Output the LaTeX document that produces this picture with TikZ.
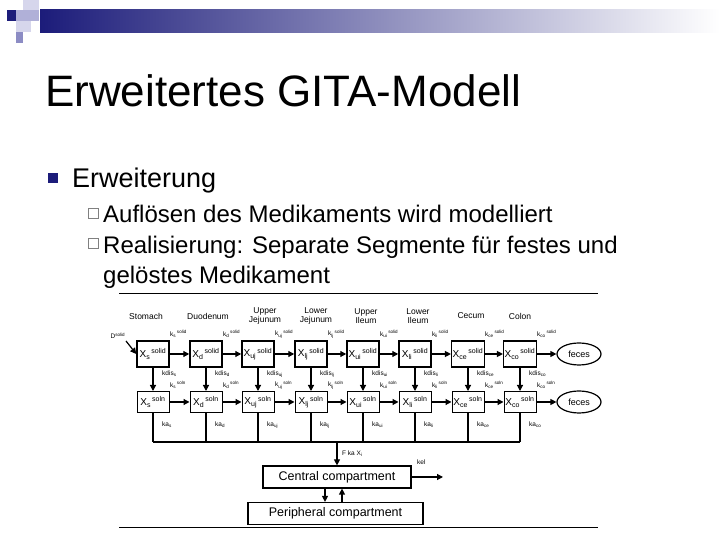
\documentclass[tikz,border=0pt]{standalone}
\usepackage{fontspec}
\setmainfont{Liberation Sans}
\usetikzlibrary{arrows.meta, positioning, shapes.geometric, calc}
\definecolor{navy}{RGB}{28,28,122}
\definecolor{lavender}{RGB}{176,176,216}
\definecolor{lightlav}{RGB}{214,214,236}
\definecolor{midlav}{RGB}{140,140,196}
\newcommand{\cmp}[3]{#1\textsubscript{#2}\textsuperscript{\,#3}}
\tikzset{
  title_text/.style={font=\fontsize{44}{48}\selectfont, inner sep=0pt},
  bullet_text/.style={font=\fontsize{27}{30}\selectfont, inner sep=0pt},
  sub_text/.style={font=\fontsize{24}{27}\selectfont, inner sep=0pt},
  solid_box/.style={rectangle, draw=black, line width=1.5pt, fill=white, minimum width=32pt, minimum height=26pt, inner sep=1pt, font=\fontsize{10}{11}\selectfont},
  soln_box/.style={rectangle, draw=black, line width=1pt, fill=white, minimum width=32pt, minimum height=21pt, inner sep=1pt, font=\fontsize{10}{11}\selectfont},
  comp_box/.style={rectangle, draw=black, line width=1.2pt, minimum height=22pt, inner sep=2pt, font=\fontsize{12.5}{14}\selectfont},
  feces_node/.style={ellipse, draw=black, line width=1.2pt, minimum width=44pt, minimum height=22pt, inner sep=0pt, font=\fontsize{9}{10}\selectfont},
  seg_label/.style={font=\fontsize{8.5}{9.5}\selectfont, align=center, inner sep=0pt},
  rate_label/.style={font=\fontsize{6.5}{7}\selectfont, inner sep=0pt, anchor=west},
  arrow/.style={-{Triangle[length=6pt,width=6pt]}, line width=1.2pt, draw=black, fill=black},
  connect/.style={-, line width=1.2pt, draw=black},
  frame_line/.style={-, line width=1pt}
}

\begin{document}
\begin{tikzpicture}[x=1pt, y=1pt]
    \useasboundingbox (0,0) rectangle (720,540);

    % header bar and its little squares
    \shade[left color=navy, right color=white] (40,530) rectangle (720,507);
    \fill[lightlav] (23,540) rectangle (39,530);
    \fill[lavender] (16,530) rectangle (39,519);
    \fill[navy] (7,530) rectangle (16,519);
    \fill[lightlav] (16,519) rectangle (31,508);
    \fill[midlav] (16,508) rectangle (23,497);

    % slide text
    \node[title_text, anchor=base west] (title) at (45,433) {Erweitertes GITA-Modell};
    \fill[navy] (48,367) rectangle (58,357);
    \node[bullet_text, anchor=base west] (bullet) at (72,352) {Erweiterung};
    \draw[gray, line width=0.6pt] (88,332) rectangle (98,322);
    \node[sub_text, anchor=base west] (sub_a) at (103,317) {Auflösen des Medikaments wird modelliert};
    \draw[gray, line width=0.6pt] (88,302) rectangle (98,292);
    \node[sub_text, anchor=base west] (sub_b) at (103,286) {Realisierung: Separate Segmente für festes und};
    \node[sub_text, anchor=base west] (sub_c) at (103,256) {gelöstes Medikament};

    % frame of the figure
    \draw[frame_line] (119,246) -- (598,246);
    \draw[frame_line] (119,12) -- (598,12);

    % the eight segments, solid row over soln row
    \foreach \seg/\segname/\headx/\boxx in {s/Stomach/146/153, d/Duodenum/208/206, uj/{Upper\\Jejunum}/265/258, lj/{Lower\\Jejunum}/316/311, ui/{Upper\\Ileum}/366/363, li/{Lower\\Ileum}/418/415, ce/Cecum/471/468, co/Colon/520/520}{
      \node[seg_label] (head-\seg) at (\headx,224) {\segname};
      \node[solid_box] (sol-\seg) at (\boxx,186) {\cmp{X}{\seg}{solid}};
      \node[soln_box] (sln-\seg) at (\boxx,138) {\cmp{X}{\seg}{soln}};
      \node[rate_label] (ks-\seg) at (\boxx+17,206) {\cmp{k}{\seg}{solid}};
      \node[rate_label] (kn-\seg) at (\boxx+17,155) {\cmp{k}{\seg}{soln}};
      \node[rate_label] (kdis-\seg) at (\boxx+9,166) {kdis\textsubscript{\seg}};
      \node[rate_label] (ka-\seg) at (\boxx+9,115) {ka\textsubscript{\seg}};
    }
    \coordinate (kajoin) at (0,98);

    % dissolution
    \draw[arrow] (sol-s.south) -- (sln-s.north);
    \draw[arrow] (sol-d.south) -- (sln-d.north);
    \draw[arrow] (sol-uj.south) -- (sln-uj.north);
    \draw[arrow] (sol-lj.south) -- (sln-lj.north);
    \draw[arrow] (sol-ui.south) -- (sln-ui.north);
    \draw[arrow] (sol-li.south) -- (sln-li.north);
    \draw[arrow] (sol-ce.south) -- (sln-ce.north);
    \draw[arrow] (sol-co.south) -- (sln-co.north);
    % transit along the gut
    \foreach \a/\b in {s/d, d/uj, uj/lj, lj/ui, ui/li, li/ce, ce/co}{
      \draw[arrow] (sol-\a.east) -- (sol-\b.west);
      \draw[arrow] (sln-\a.east) -- (sln-\b.west);
    }
    % absorption drops
    \draw[connect] (sln-s.south) -- (sln-s.south |- kajoin);
    \draw[connect] (sln-d.south) -- (sln-d.south |- kajoin);
    \draw[connect] (sln-uj.south) -- (sln-uj.south |- kajoin);
    \draw[connect] (sln-lj.south) -- (sln-lj.south |- kajoin);
    \draw[connect] (sln-ui.south) -- (sln-ui.south |- kajoin);
    \draw[connect] (sln-li.south) -- (sln-li.south |- kajoin);
    \draw[connect] (sln-ce.south) -- (sln-ce.south |- kajoin);
    \draw[connect] (sln-co.south) -- (sln-co.south |- kajoin);
    \draw[connect] (sln-s.south |- kajoin) -- (sln-co.south |- kajoin);

    % dose and feces
    \node[rate_label, anchor=center] (dose) at (118,204) {D\textsuperscript{solid}};
    \coordinate (dosestart) at (126,199);
    \draw[arrow] (dosestart) -- (sol-s.west);
    \node[feces_node] (feces-top) at (579,186) {feces};
    \node[feces_node] (feces-bot) at (579,138) {feces};
    \draw[arrow] (sol-co.east) -- (feces-top.west);
    \draw[arrow] (sln-co.east) -- (feces-bot.west);

    % central and peripheral compartments
    \node[comp_box, minimum width=148pt] (central) at (337,63) {Central compartment};
    \node[comp_box, minimum width=175pt] (periph) at (335.5,26.5) {Peripheral compartment};
    \coordinate (fka) at (337,98);
    \draw[arrow] (fka) -- (central.north);
    \node[rate_label] (fka-label) at (342,86) {F ka X\textsubscript{i}};
    \coordinate (kelend) at (443,63);
    \draw[arrow] (central.east) -- (kelend);
    \node[rate_label] (kel-label) at (417,78) {kel};
    \draw[arrow] ([xshift=-12pt]central.south) -- ([xshift=-12pt]central.south |- periph.north);
    \draw[arrow] ([xshift=5pt]central.south |- periph.north) -- ([xshift=5pt]central.south);
\end{tikzpicture}
\end{document}
